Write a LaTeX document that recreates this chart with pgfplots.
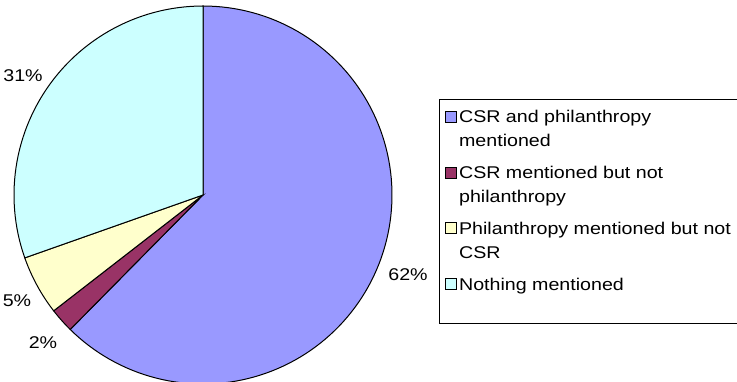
\documentclass[border=0pt]{standalone}
\usepackage{pgfplots}
\pgfplotsset{compat=1.18}
\usepackage{fontspec}
\setmainfont{Liberation Sans}[FakeStretch=1.155]
\definecolor{cA}{HTML}{9999FF}
\definecolor{cB}{HTML}{993366}
\definecolor{cC}{HTML}{FFFFCC}
\definecolor{cD}{HTML}{CCFFFF}
\pgfplotsset{
  oneimg/.style={legend image code/.code={\draw[##1,draw=black,line width=0.7pt] (0pt,0.5pt) rectangle (11pt,11.5pt);}},
  twoimg/.style={legend image code/.code={\draw[##1,draw=black,line width=0.7pt] (0pt,24.5pt) rectangle (11pt,35.5pt);}},
}
\begin{document}
\begin{tikzpicture}
\begin{axis}[
  scale only axis, width=737pt, height=382pt,
  xmin=0, xmax=737, ymin=0, ymax=382,
  hide axis, clip=false,
  legend cell align=left,
  legend style={at={(axis cs:439,283)}, anchor=north west, draw=black, line width=0.8pt,
    font=\fontsize{17}{24}\selectfont, nodes={align=left, inner xsep=2pt},
    cells={anchor=base west},
    row sep=14pt, inner xsep=6pt, inner ysep=9pt},
]
% slice values (%): 62.4, 2.1, 5.1, 30.4, clockwise from 12 o'clock
\addplot[fill=cA, draw=black, line width=1pt, domain={90-3.6*62.4}:90, samples=120, twoimg]
  ({203+189*cos(x)},{187+189*sin(x)}) -- (axis cs:203,187) -- cycle;
\addlegendentry{CSR and philanthropy\\mentioned}
\addplot[fill=cB, draw=black, line width=1pt, domain={90-3.6*(62.4+2.1)}:{90-3.6*62.4}, samples=10, twoimg]
  ({203+189*cos(x)},{187+189*sin(x)}) -- (axis cs:203,187) -- cycle;
\addlegendentry{CSR mentioned but not\\philanthropy}
\addplot[fill=cC, draw=black, line width=1pt, domain={90-3.6*(62.4+2.1+5.1)}:{90-3.6*(62.4+2.1)}, samples=15, twoimg]
  ({203+189*cos(x)},{187+189*sin(x)}) -- (axis cs:203,187) -- cycle;
\addlegendentry{Philanthropy mentioned but not\\CSR}
\addplot[fill=cD, draw=black, line width=1pt, domain={90-3.6*(62.4+2.1+5.1+30.4)}:{90-3.6*(62.4+2.1+5.1)}, samples=60, oneimg]
  ({203+189*cos(x)},{187+189*sin(x)}) -- (axis cs:203,187) -- cycle;
\addlegendentry{Nothing mentioned}
\addlegendimage{empty legend}
\addlegendentry{\rule{0pt}{1pt}\rule{290pt}{0pt}}
\node[font=\fontsize{17}{20}\selectfont] at (axis cs:408,107) {62\%};
\node[font=\fontsize{17}{20}\selectfont] at (axis cs:43,39) {2\%};
\node[font=\fontsize{17}{20}\selectfont] at (axis cs:17,81) {5\%};
\node[font=\fontsize{17}{20}\selectfont] at (axis cs:23,306) {31\%};
\end{axis}
\pgfresetboundingbox
\path (0,0) rectangle (737pt,382pt);
\end{tikzpicture}
\end{document}
